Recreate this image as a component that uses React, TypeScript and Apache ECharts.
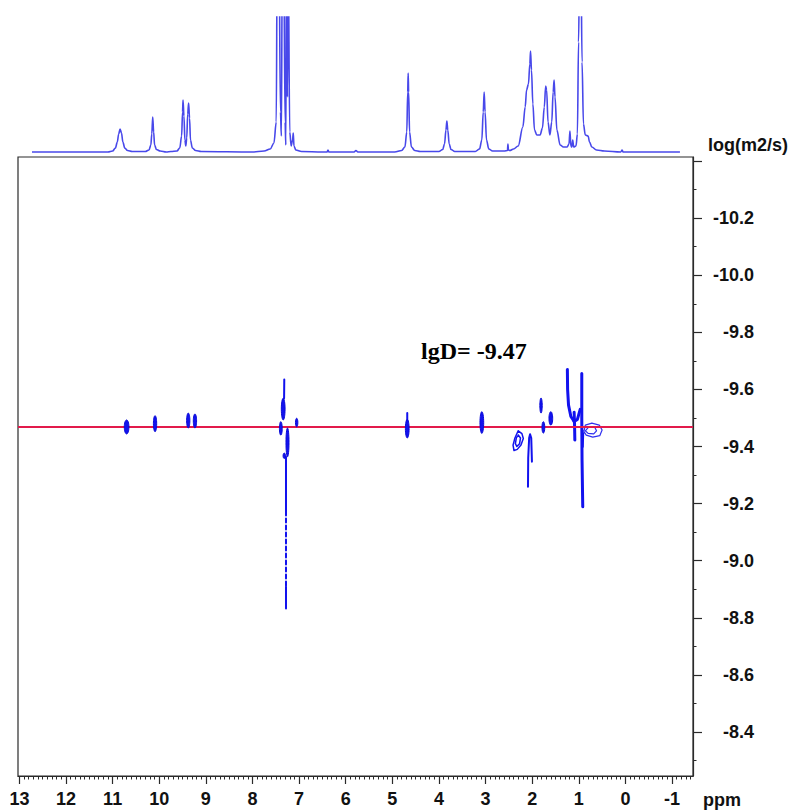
import React, { useEffect, useRef } from "react";
import * as echarts from "echarts";

// ---- axis ranges & ticks ----
const X_MIN = -1.45;
const X_MAX = 13.03;
const Y_MIN = -10.414;
const Y_MAX = -8.246;
const xMajorTicks = [13, 12, 11, 10, 9, 8, 7, 6, 5, 4, 3, 2, 1, 0, -1];
const yMajorTicks = [-10.4, -10.2, -10.0, -9.8, -9.6, -9.4, -9.2, -9.0, -8.8, -8.6, -8.4];
const yLabelTicks = [-10.2, -10.0, -9.8, -9.6, -9.4, -9.2, -9.0, -8.8, -8.6, -8.4];
const SPEC_MIN = -2;
const SPEC_MAX = 135;

const LGD_VALUE = -9.47;
const lgDLabelText = "lgD= -9.47";
const lgDLabelPos: [number, number] = [3.25, -9.734];

// ---- 1D projection spectrum: [ppm, intensity] ----
const spectrum: [number, number][] = [
  [12.73, 0], [11.1, 0], [11.0, 1], [10.94, 4], [10.9, 10], [10.87, 18], [10.84, 23], [10.81, 19], [10.78, 10], [10.74, 4], [10.68, 1.5], [10.58, 0.5],
  [10.3, 0.5], [10.22, 2], [10.18, 7], [10.16, 18], [10.14, 35], [10.12, 20], [10.1, 7], [10.06, 2.5], [9.98, 1], [9.85, 0], [9.75, 0.5],
  [9.62, 1], [9.56, 4], [9.52, 16], [9.5, 40], [9.49, 52], [9.47, 36], [9.45, 12], [9.43, 6], [9.41, 14], [9.39, 38], [9.37, 49], [9.35, 34], [9.33, 12], [9.29, 4], [9.22, 1.5], [9.1, 0.5], [8.0, 0],
  [7.75, 1], [7.62, 3], [7.54, 9], [7.49, 30], [7.47, 200], [7.43, 200], [7.4, 40], [7.38, 16], [7.36, 200], [7.33, 200], [7.3, 30], [7.285, 7], [7.27, 200], [7.25, 55], [7.235, 200], [7.2, 20], [7.17, 6], [7.14, 12], [7.125, 19], [7.11, 6], [7.07, 2], [6.95, 0.5],
  [6.5, 0], [6.4, 0], [6.38, 2], [6.36, 0], [5.82, 0], [5.78, 1.5], [5.74, 0],
  [4.95, 0], [4.8, 1.5], [4.73, 5], [4.69, 20], [4.67, 60], [4.66, 79], [4.65, 60], [4.63, 20], [4.59, 5], [4.52, 1.5], [4.4, 0.5],
  [4.0, 0.5], [3.92, 2.5], [3.88, 8], [3.85, 22], [3.83, 31], [3.81, 22], [3.78, 8], [3.74, 2.5], [3.66, 0.5],
  [3.22, 0.5], [3.13, 3], [3.08, 12], [3.05, 40], [3.03, 60], [3.01, 40], [2.98, 12], [2.93, 3], [2.85, 1], [2.6, 1], [2.53, 1.5], [2.52, 8], [2.51, 2], [2.48, 1.5],
  [2.4, 3], [2.3, 6], [2.2, 25], [2.15, 45], [2.12, 62], [2.08, 68], [2.05, 88], [2.035, 101], [2.015, 82], [1.985, 48], [1.95, 22], [1.9, 17], [1.83, 17], [1.78, 24], [1.74, 45], [1.71, 66], [1.69, 62], [1.66, 30], [1.62, 17], [1.58, 30], [1.55, 60], [1.53, 72], [1.51, 55], [1.47, 22], [1.4, 7], [1.33, 5], [1.25, 5],
  [1.21, 8], [1.19, 21], [1.17, 6], [1.15, 5], [1.13, 12], [1.11, 5], [1.06, 6], [1.03, 18], [1.005, 110], [0.98, 200], [0.955, 200], [0.93, 90], [0.9, 28], [0.86, 17], [0.8, 16], [0.77, 10], [0.72, 5], [0.62, 2], [0.45, 1],
  [0.1, 0], [0.07, 2], [0.05, 0], [-1.17, 0],
];

// ---- DOSY contour blobs: [ppm, lgD top, lgD bottom, width in ppm] ----
const contourBlobs: [number, number, number, number][] = [
  [10.7, -9.493, -9.444, 0.1],
  [10.09, -9.508, -9.452, 0.07],
  [9.378, -9.517, -9.465, 0.07],
  [9.234, -9.514, -9.465, 0.07],
  [7.341, -9.569, -9.493, 0.08],
  [7.392, -9.487, -9.44, 0.06],
  [7.052, -9.499, -9.469, 0.035],
  [7.249, -9.465, -9.364, 0.065],
  [7.318, -9.377, -9.358, 0.035],
  [4.68, -9.495, -9.43, 0.08],
  [3.08, -9.522, -9.446, 0.08],
  [1.81, -9.57, -9.517, 0.045],
  [1.76, -9.487, -9.447, 0.06],
  [1.6, -9.522, -9.475, 0.08],
];

// ---- DOSY contour strokes: [ppm, lgD] paths ----
const h7TopLine: [number, number][] = [[7.318, -9.635], [7.322, -9.569]];
const h468Top: [number, number][] = [[4.68, -9.517], [4.68, -9.49]];
const h7Tail: [number, number][] = [[7.281, -9.364], [7.281, -9.172]];
const h7TailDashed: [number, number][] = [[7.281, -9.172], [7.281, -8.909]];
const h7TailEnd: [number, number][] = [[7.281, -8.909], [7.281, -8.833]];
const spike205: [number, number][] = [[2.09, -9.259], [2.085, -9.36], [2.065, -9.43], [2.045, -9.443], [2.02, -9.43], [2.005, -9.347]];
const vLeftArm: [number, number][] = [[1.245, -9.67], [1.24, -9.6], [1.22, -9.545], [1.17, -9.505], [1.1, -9.488]];
const vStem: [number, number][] = [[1.1, -9.52], [1.09, -9.47], [1.085, -9.423]];
const vConnector: [number, number][] = [[1.1, -9.488], [1.03, -9.495], [0.97, -9.53]];
const vRightArm: [number, number][] = [[0.936, -9.656], [0.936, -9.5], [0.93, -9.35], [0.915, -9.189]];
const loop230Outer: [number, number][] = [[2.3, -9.455], [2.22, -9.445], [2.19, -9.428], [2.24, -9.405], [2.32, -9.39], [2.39, -9.386], [2.41, -9.405], [2.37, -9.43], [2.3, -9.455]];
const loop230Inner: [number, number][] = [[2.3, -9.44], [2.25, -9.43], [2.27, -9.41], [2.33, -9.4], [2.36, -9.41], [2.34, -9.43], [2.3, -9.44]];
const loop07Outer: [number, number][] = [[0.9, -9.445], [0.86, -9.475], [0.72, -9.482], [0.56, -9.475], [0.5, -9.458], [0.55, -9.438], [0.7, -9.433], [0.84, -9.44], [0.9, -9.455]];
const loop07Inner: [number, number][] = [[0.86, -9.455], [0.78, -9.47], [0.66, -9.468], [0.62, -9.455], [0.68, -9.444], [0.8, -9.446], [0.86, -9.455]];
const loop07Tail: [number, number][] = [[0.9, -9.445], [0.905, -9.42], [0.91, -9.398]];

const BLUE = "#1212ee";
const SPEC_BLUE = "#4848ea";
const RED = "#e21a4b";
const AXIS = "#2a2a2a";
const FONT = "'Liberation Sans', Arial, Helvetica, sans-serif";
const SERIF = "'Liberation Serif', 'Times New Roman', serif";

function minorX(): number[] {
  const out: number[] = [];
  for (let i = -14; i <= 130; i++) if (i % 10 !== 0) out.push(i / 10);
  return out;
}
function minorY(): number[] {
  const out: number[] = [];
  for (let i = -103; i <= -83; i += 2) out.push(i / 10);
  return out;
}

export default function App() {
  const ref = useRef<HTMLDivElement>(null);
  useEffect(() => {
    document.body.style.margin = "0";
    if (!ref.current) return;
    const chart = echarts.init(ref.current, undefined, { renderer: "svg" });

    const pathSeries = (data: [number, number][], width: number, color = BLUE, dashed = false) => ({
      type: "line",
      xAxisIndex: 0,
      yAxisIndex: 0,
      data,
      showSymbol: false,
      symbol: "none",
      silent: true,
      clip: true,
      lineStyle: { color, width, type: dashed ? [4, 3] : "solid", cap: "round", join: "round" },
      z: 4,
    });

    const option: any = {
      animation: false,
      grid: [
        { left: 18, right: 102, top: 157, bottom: 36, show: true, borderColor: AXIS, borderWidth: 1.2, backgroundColor: "transparent" },
        { left: 18, right: 102, top: 17, height: 137, show: false },
      ],
      xAxis: [
        {
          gridIndex: 0, type: "value", min: X_MIN, max: X_MAX, inverse: true, position: "bottom",
          axisLine: { show: true, onZero: false, lineStyle: { color: AXIS, width: 1.2 } },
          axisTick: { show: true, customValues: xMajorTicks, length: 8, lineStyle: { color: AXIS, width: 1.2 } },
          axisLabel: { show: true, customValues: xMajorTicks, margin: 14, color: "#111", fontSize: 18, fontWeight: "bold", fontFamily: FONT },
          splitLine: { show: false },
        },
        {
          gridIndex: 0, type: "value", min: X_MIN, max: X_MAX, inverse: true, position: "bottom",
          axisLine: { show: false, onZero: false },
          axisTick: { show: true, customValues: minorX(), length: 3.5, lineStyle: { color: AXIS, width: 1 } },
          axisLabel: { show: false },
          splitLine: { show: false },
        },
        { gridIndex: 1, type: "value", min: X_MIN, max: X_MAX, inverse: true, show: false },
      ],
      yAxis: [
        {
          gridIndex: 0, type: "value", min: Y_MIN, max: Y_MAX, inverse: true, position: "right",
          axisLine: { show: true, onZero: false, lineStyle: { color: AXIS, width: 1.2 } },
          axisTick: { show: true, customValues: yMajorTicks, length: 9, lineStyle: { color: AXIS, width: 1.2 } },
          axisLabel: {
            show: true, customValues: yLabelTicks, margin: 61, align: "right", color: "#111",
            fontSize: 18, fontWeight: "bold", fontFamily: FONT,
            formatter: (v: number) => v.toFixed(1),
          },
          splitLine: { show: false },
        },
        {
          gridIndex: 0, type: "value", min: Y_MIN, max: Y_MAX, inverse: true, position: "right",
          axisLine: { show: false, onZero: false },
          axisTick: { show: true, customValues: minorY(), length: 3.5, lineStyle: { color: AXIS, width: 1 } },
          axisLabel: { show: false },
          splitLine: { show: false },
        },
        { gridIndex: 1, type: "value", min: SPEC_MIN, max: SPEC_MAX, show: false },
      ],
      graphic: [
        { type: "text", left: 708, top: 136, style: { text: "log(m2/s)", fill: "#111", font: `bold 18px ${FONT}` } },
        { type: "text", left: 703, top: 791, style: { text: "ppm", fill: "#111", font: `bold 18px ${FONT}` } },
      ],
      series: [
        {
          type: "line", xAxisIndex: 2, yAxisIndex: 2, data: spectrum, showSymbol: false, symbol: "none",
          smooth: 0.35, smoothMonotone: "x", clip: true, silent: true,
          lineStyle: { color: SPEC_BLUE, width: 1.6 },
        },
        {
          type: "line", xAxisIndex: 0, yAxisIndex: 0, data: [], silent: true,
          markLine: {
            silent: true, symbol: ["none", "none"], label: { show: false },
            lineStyle: { color: RED, width: 2, type: "solid" },
            data: [{ yAxis: LGD_VALUE }],
          },
          z: 6,
        },
        {
          type: "custom", xAxisIndex: 0, yAxisIndex: 0, silent: true, clip: true, z: 5,
          dimensions: ["ppm", "top", "bottom", "width"],
          encode: { x: "ppm", y: ["top", "bottom"] },
          data: contourBlobs,
          renderItem: (_p: any, api: any) => {
            const ppm = api.value(0);
            const a = api.coord([ppm, api.value(1)]);
            const b = api.coord([ppm, api.value(2)]);
            const w = Math.abs(api.size([api.value(3), 0])[0]);
            return {
              type: "ellipse",
              shape: { cx: a[0], cy: (a[1] + b[1]) / 2, rx: Math.max(w / 2, 1.2), ry: Math.abs(b[1] - a[1]) / 2 },
              style: { fill: BLUE, stroke: "#0a0ad8", lineWidth: 1 },
            };
          },
        },
        pathSeries(h7TopLine, 2),
        pathSeries(h468Top, 2),
        pathSeries(h7Tail, 2),
        pathSeries(h7TailDashed, 2, BLUE, true),
        pathSeries(h7TailEnd, 2),
        pathSeries(spike205, 2),
        pathSeries(vLeftArm, 3),
        pathSeries(vStem, 3),
        pathSeries(vConnector, 3),
        pathSeries(vRightArm, 3),
        pathSeries(loop230Outer, 1.5),
        pathSeries(loop230Inner, 1.5),
        pathSeries(loop07Outer, 1.2, "#3030f0"),
        pathSeries(loop07Inner, 1.2, "#3030f0"),
        pathSeries(loop07Tail, 1.5),
        {
          type: "scatter", xAxisIndex: 0, yAxisIndex: 0, silent: true,
          data: [lgDLabelPos], symbolSize: 1, itemStyle: { color: "rgba(0,0,0,0)" },
          label: {
            show: true, position: "inside", formatter: lgDLabelText, color: "#000", opacity: 1,
            textBorderWidth: 0, textBorderColor: "transparent", textShadowBlur: 0,
            fontSize: 24, fontWeight: "bold", fontFamily: SERIF,
          },
          z: 7,
        },
      ],
    };
    chart.setOption(option);
    return () => chart.dispose();
  }, []);
  return <div ref={ref} style={{ width: 795, height: 812 }} />;
}
